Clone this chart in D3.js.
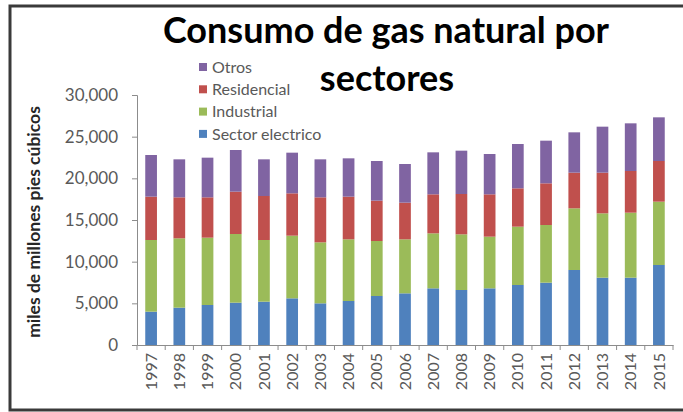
<!DOCTYPE html>
<html>
<head>
<meta charset="utf-8">
<script src="https://cdn.jsdelivr.net/npm/d3@7"></script>
<style>
  html, body { margin: 0; padding: 0; background: #fff; }
  svg { display: block; }
  text { font-family: Lato, "Open Sans", sans-serif; }
</style>
</head>
<body>
<svg id="chart" width="683" height="412"></svg>
<script>
// Natural gas consumption by sector, 1997–2015 (miles de millones de pies cúbicos)
const years = ["1997","1998","1999","2000","2001","2002","2003","2004","2005","2006",
               "2007","2008","2009","2010","2011","2012","2013","2014","2015"];
const sectorElectrico = [4000,4480,4800,5080,5200,5600,5000,5280,5880,6200,6800,6600,6800,7200,7480,9000,8080,8080,9600];
const industrial      = [8600,8320,8080,8240,7400,7520,7320,7400,6600,6480,6600,6680,6200,7000,6920,7400,7720,7800,7600];
const residencial     = [5200,4920,4840,5080,5280,5080,5400,5120,4840,4400,4680,4840,5080,4600,5000,4280,4880,5000,4880];
const otros           = [5000,4560,4760,5000,4400,4880,4560,4600,4760,4640,5040,5200,4840,5320,5120,4840,5520,5720,5240];
const seriesNames  = ["Sector electrico","Industrial","Residencial","Otros"];
const seriesColors = ["#4F81BD","#9BBB59","#C0504D","#8064A2"];
const yTicks = [0,5000,10000,15000,20000,25000,30000];

const rows = years.map((y, i) => ({
  year: y,
  "Sector electrico": sectorElectrico[i],
  "Industrial": industrial[i],
  "Residencial": residencial[i],
  "Otros": otros[i]
}));

const svg = d3.select("#chart");

// outer frame
svg.append("rect")
  .attr("x", 10).attr("y", 6)
  .attr("width", 700).attr("height", 404)
  .attr("fill", "none").attr("stroke", "#3a3a3a").attr("stroke-width", 3);

const plot = { left: 137, right: 673, top: 95, bottom: 345 };

const x = d3.scaleBand()
  .domain(years)
  .range([plot.left, plot.right])
  .paddingInner(0.585)
  .paddingOuter(0.2925);

const y = d3.scaleLinear()
  .domain([0, 30000])
  .range([plot.bottom, plot.top]);

const color = d3.scaleOrdinal().domain(seriesNames).range(seriesColors);

const stacked = d3.stack().keys(seriesNames)(rows);

// bars
svg.append("g").selectAll("g")
  .data(stacked)
  .join("g")
  .attr("fill", d => color(d.key))
  .selectAll("rect")
  .data(d => d)
  .join("rect")
  .attr("x", d => x(d.data.year))
  .attr("width", x.bandwidth())
  .attr("y", d => y(d[1]))
  .attr("height", d => y(d[0]) - y(d[1]));

// y axis
const yAxis = svg.append("g")
  .attr("transform", `translate(${plot.left},0)`)
  .call(d3.axisLeft(y).tickValues(yTicks).tickSize(5).tickPadding(14)
        .tickFormat(d3.format(",")));
yAxis.select(".domain").attr("stroke", "#8c8c8c");
yAxis.selectAll(".tick line").attr("stroke", "#8c8c8c");
yAxis.selectAll(".tick text")
  .attr("fill", "#595959")
  .style("font-size", "17px")
  .style("font-family", "Lato, sans-serif");

// x axis with tick marks between categories
const xAxis = svg.append("g")
  .attr("transform", `translate(0,${plot.bottom})`)
  .call(d3.axisBottom(x).tickSize(0).tickPadding(0).tickSizeOuter(0));
xAxis.select(".domain").attr("stroke", "#8c8c8c");
const step = x.step();
xAxis.selectAll(".tick").append("line")
  .attr("x1", -step / 2).attr("x2", -step / 2)
  .attr("y1", 0).attr("y2", 5)
  .attr("stroke", "#8c8c8c");
xAxis.append("line")
  .attr("x1", plot.right).attr("x2", plot.right)
  .attr("y1", 0).attr("y2", 5)
  .attr("stroke", "#8c8c8c");
xAxis.selectAll(".tick text")
  .attr("fill", "#595959")
  .style("font-size", "16px")
  .style("font-family", "Lato, sans-serif")
  .attr("text-anchor", "end")
  .attr("dy", "0.35em")
  .attr("transform", "translate(0,8) rotate(-90)");

// y axis title
svg.append("text")
  .attr("transform", "translate(40,222) rotate(-90)")
  .attr("text-anchor", "middle")
  .attr("fill", "#262626")
  .style("font-size", "17.5px")
  .style("font-weight", "700")
  .text("miles de millones pies cúbicos");

// title
const title = svg.append("text")
  .attr("text-anchor", "middle")
  .attr("fill", "#000")
  .style("font-size", "36px")
  .style("font-weight", "700");
title.append("tspan").attr("x", 386).attr("y", 43).text("Consumo de gas natural por");
title.append("tspan").attr("x", 387).attr("y", 91).text("sectores");

// legend (top entry is the top of the stack)
const legendItems = seriesNames.slice().reverse();
const legend = svg.append("g").attr("transform", "translate(199,67)");
const li = legend.selectAll("g")
  .data(legendItems)
  .join("g")
  .attr("transform", (d, i) => `translate(0,${i * 22.3})`);
li.append("rect")
  .attr("x", 0).attr("y", -4)
  .attr("width", 8).attr("height", 8)
  .attr("fill", d => color(d));
li.append("text")
  .attr("x", 13).attr("y", 0).attr("dy", "0.35em")
  .attr("fill", "#595959")
  .style("font-size", "16px")
  .text(d => d);
</script>
</body>
</html>
